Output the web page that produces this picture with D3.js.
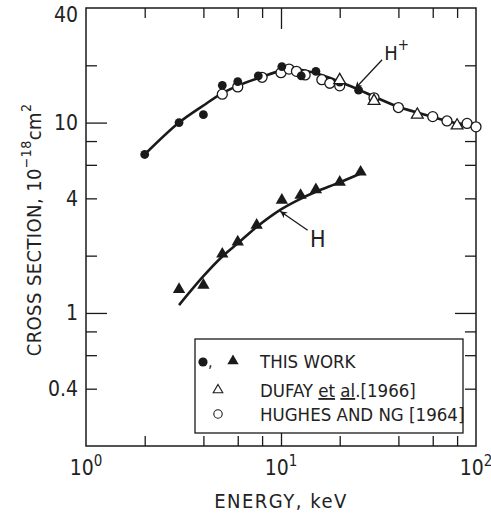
<!DOCTYPE html>
<html>
<head>
<meta charset="utf-8">
<script src="https://cdn.jsdelivr.net/npm/d3@7"></script>
<style>
  body { margin: 0; background: #fff; }
  text { font-family: "DejaVu Sans Condensed", "Liberation Sans Narrow", sans-serif; fill: #222; }
</style>
</head>
<body>
<div id="chart"></div>
<script>
// H+ measured by this work (filled circles)
const hPlusThisWork = [[2, 6.8], [3, 10.0], [4, 11.0], [5, 15.7], [6, 16.4], [7.65, 17.6], [10.1, 19.7], [12.7, 17.6], [15.1, 18.6], [20, 16.3], [25, 14.8]];
// H measured by this work (filled triangles)
const hThisWork = [[3, 1.33], [4, 1.40], [5, 2.04], [6, 2.36], [7.5, 2.89], [10.1, 3.91], [12.6, 4.15], [15.1, 4.44], [20, 4.87], [25.6, 5.5]];
// Dufay et al. [1966] (open triangles)
const dufay = [[20, 16.7], [30, 13.0], [50, 11.0], [80, 9.65]];
// Hughes and Ng [1964] (open circles)
const hughesNg = [[5, 14.1], [6, 15.4], [8, 17.3], [10, 18.3], [11, 19.1], [12, 18.6], [13.3, 17.8], [16.2, 16.8], [17.8, 16.1], [20, 15.6], [30, 13.5], [40, 12.0], [60, 10.75], [71, 10.2], [90, 9.9], [100, 9.5]];

// hand drawn fit curves
const hPlusCurve = [[2, 6.8], [3, 10], [4, 12.3], [5, 14.3], [6, 15.6], [8, 17.4], [10, 18.7], [12, 19.0], [15, 18.2], [20, 16.4], [25, 14.9], [30, 13.7], [40, 12.1], [60, 10.7], [80, 9.9], [100, 9.5]];
const hCurve = [[3, 1.1], [4, 1.56], [5, 1.98], [6, 2.32], [7.5, 2.83], [10, 3.5], [12.6, 3.98], [15, 4.32], [20, 4.85], [25.6, 5.4]];

const xMinorTicks = [2, 4, 6, 8, 20, 40, 60, 80];
const xMajorTicks = [10];
const xLabels = [[1, "0"], [10, "1"], [100, "2"]];
const yMinorTicks = [0.4, 0.6, 0.8, 2, 4, 6, 8, 20];
const yMajorTicks = [1, 10];
const yLabels = [40, 10, 4, 1, 0.4];

const legendItems = ["THIS  WORK", "DUFAY", "HUGHES AND NG [1964]"];

// arrows: [tip, tail], label anchor
const annotations = [
  { tip: [24, 15.1], tail: [33, 21.4], at: [33.8, 21.2], label: "H", sup: "+", size: 20 },
  { tip: [9.9, 3.42], tail: [13.7, 2.72], at: [14.1, 2.22], label: "H", sup: "", size: 23 }
];

const width = 491, height = 517;
const margin = { top: 8, right: 15, bottom: 71, left: 86 };

const svg = d3.select("#chart").append("svg")
    .attr("width", width)
    .attr("height", height);

const x = d3.scaleLog().domain([1, 100]).range([margin.left, width - margin.right]);
const y = d3.scaleLog().domain([0.2, 40]).range([height - margin.bottom, margin.top]);

const ink = "#1a1a1a";

function styleAxis(g) {
  g.select(".domain").remove();
  g.selectAll("line").attr("stroke", ink).attr("stroke-width", 1.3);
}

// ticks on all four sides, pointing inward
[[xMinorTicks, 10], [xMajorTicks, 21]].forEach(([vals, len]) => {
  svg.append("g").attr("transform", `translate(0,${y.range()[0]})`)
    .call(d3.axisBottom(x).tickValues(vals).tickSize(-len).tickFormat(""))
    .call(styleAxis);
  svg.append("g").attr("transform", `translate(0,${y.range()[1]})`)
    .call(d3.axisTop(x).tickValues(vals).tickSize(-len).tickFormat(""))
    .call(styleAxis);
});
[[yMinorTicks, 11], [yMajorTicks, 21]].forEach(([vals, len]) => {
  svg.append("g").attr("transform", `translate(${x.range()[0]},0)`)
    .call(d3.axisLeft(y).tickValues(vals).tickSize(-len).tickFormat(""))
    .call(styleAxis);
  svg.append("g").attr("transform", `translate(${x.range()[1]},0)`)
    .call(d3.axisRight(y).tickValues(vals).tickSize(-len).tickFormat(""))
    .call(styleAxis);
});

// y tick labels (the top one sits a little below its tick, as in the original)
svg.append("g").attr("transform", `translate(${x.range()[0]},0)`)
  .call(d3.axisLeft(y).tickValues(yLabels).tickSize(0).tickPadding(8).tickFormat(d => String(d)))
  .call(g => g.select(".domain").remove())
  .call(g => g.selectAll("text")
    .attr("font-size", 21).attr("font-family", null).attr("fill", "#222")
    .attr("dy", d => d === 40 ? "0.65em" : "0.32em"));

// x tick labels with exponents
const xl = svg.append("g");
xLabels.forEach(([v, e]) => {
  const t = xl.append("text")
    .attr("x", x(v))
    .attr("y", 475)
    .attr("text-anchor", "middle")
    .attr("font-size", 21);
  t.append("tspan").text("10");
  t.append("tspan").attr("font-size", 15).attr("dy", -9).text(e);
});

// frame
svg.append("rect")
  .attr("x", x.range()[0]).attr("y", y.range()[1])
  .attr("width", x.range()[1] - x.range()[0])
  .attr("height", y.range()[0] - y.range()[1])
  .attr("fill", "none").attr("stroke", ink).attr("stroke-width", 1.5);

// axis titles
svg.append("text")
  .attr("x", x(10))
  .attr("y", 508)
  .attr("text-anchor", "middle")
  .attr("font-size", 20)
  .attr("letter-spacing", 1.5)
  .text("ENERGY,  keV");

const yt = svg.append("text")
  .attr("transform", "translate(41,230) rotate(-90)")
  .attr("text-anchor", "middle")
  .attr("font-size", 20)
  .attr("letter-spacing", 0.4);
yt.append("tspan").text("CROSS  SECTION,  10");
yt.append("tspan").attr("font-size", 14).attr("dy", -10).text("−18");
yt.append("tspan").attr("dy", 10).text("cm");
yt.append("tspan").attr("font-size", 14).attr("dy", -10).text("2");

// fit curves
const line = d3.line()
  .x(d => x(d[0]))
  .y(d => y(d[1]))
  .curve(d3.curveCatmullRom.alpha(0.5));

[hPlusCurve, hCurve].forEach(c => {
  svg.append("path")
    .datum(c)
    .attr("d", line)
    .attr("fill", "none")
    .attr("stroke", ink)
    .attr("stroke-width", 2.6);
});

const tri = d3.symbol().type(d3.symbolTriangle);

// data points
svg.selectAll(".hughes").data(hughesNg).enter().append("circle")
  .attr("cx", d => x(d[0])).attr("cy", d => y(d[1])).attr("r", 5)
  .attr("fill", "#fff").attr("stroke", ink).attr("stroke-width", 1.3);

svg.selectAll(".hplus").data(hPlusThisWork).enter().append("circle")
  .attr("cx", d => x(d[0])).attr("cy", d => y(d[1])).attr("r", 4.4)
  .attr("fill", ink);

svg.selectAll(".dufay").data(dufay).enter().append("path")
  .attr("d", tri.size(60))
  .attr("transform", d => `translate(${x(d[0])},${y(d[1])})`)
  .attr("fill", "#fff").attr("stroke", ink).attr("stroke-width", 1.3);

svg.selectAll(".h").data(hThisWork).enter().append("path")
  .attr("d", tri.size(66))
  .attr("transform", d => `translate(${x(d[0])},${y(d[1])})`)
  .attr("fill", ink);

// annotations
svg.append("defs").append("marker")
  .attr("id", "head")
  .attr("viewBox", "0 0 10 10")
  .attr("refX", 10).attr("refY", 5)
  .attr("markerWidth", 11).attr("markerHeight", 7)
  .attr("markerUnits", "userSpaceOnUse")
  .attr("orient", "auto")
  .append("path").attr("d", "M0,0L10,5L0,10L3,5Z").attr("fill", ink);

annotations.forEach(a => {
  svg.append("line")
    .attr("x1", x(a.tail[0])).attr("y1", y(a.tail[1]))
    .attr("x2", x(a.tip[0])).attr("y2", y(a.tip[1]))
    .attr("stroke", ink).attr("stroke-width", 1.3)
    .attr("marker-end", "url(#head)");
  const t = svg.append("text")
    .attr("x", x(a.at[0])).attr("y", y(a.at[1]))
    .attr("font-size", a.size);
  t.append("tspan").text(a.label);
  if (a.sup) t.append("tspan").attr("font-size", 15).attr("dy", -10).text(a.sup);
});

// legend
const lg = svg.append("g");
lg.append("rect")
  .attr("x", 195).attr("y", 339).attr("width", 268).attr("height", 94)
  .attr("fill", "#fff").attr("stroke", ink).attr("stroke-width", 1.3);

lg.append("circle").attr("cx", 203).attr("cy", 362).attr("r", 4.6).attr("fill", ink);
lg.append("text").attr("x", 208).attr("y", 367).attr("font-size", 16).text(",");
lg.append("path").attr("d", tri.size(55)).attr("transform", "translate(233,361)").attr("fill", ink);
lg.append("path").attr("d", tri.size(40)).attr("transform", "translate(218,390)")
  .attr("fill", "#fff").attr("stroke", ink).attr("stroke-width", 1.1);
lg.append("circle").attr("cx", 218).attr("cy", 414).attr("r", 4.2)
  .attr("fill", "#fff").attr("stroke", ink).attr("stroke-width", 1.1);

const lfs = 18.5;
lg.append("text").attr("x", 260).attr("y", 368).attr("font-size", lfs).text(legendItems[0]);
const dt = lg.append("text").attr("x", 260).attr("y", 397).attr("font-size", lfs);
dt.append("tspan").text(legendItems[1] + "  ");
dt.append("tspan").attr("text-decoration", "underline").text("et");
dt.append("tspan").text(" ");
dt.append("tspan").attr("text-decoration", "underline").text("al");
dt.append("tspan").text(".[1966]");
lg.append("text").attr("x", 260).attr("y", 421).attr("font-size", lfs).text(legendItems[2]);
</script>
</body>
</html>
